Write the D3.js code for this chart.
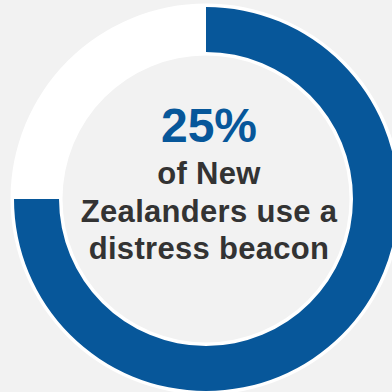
<!DOCTYPE html>
<html>
<head>
<meta charset="utf-8">
<script src="https://cdn.jsdelivr.net/npm/d3@7"></script>
<style>
  html, body { margin: 0; padding: 0; background: #f2f2f2; }
  svg { display: block; }
</style>
</head>
<body>
<script>
// Share of New Zealanders using a distress beacon
const segments = ["Do not use a beacon", "Use a distress beacon"];
const shares = [75, 25];
const headline = "25%";
const captionLines = ["of New", "Zealanders use a", "distress beacon"];

const W = 392, H = 392;
const cx = 206, cy = 199;
const ringOuter = 195.5, ringInner = 143.5;   // white track
const arcOuter = 192, arcInner = 147;          // coloured segment

const svg = d3.select("body").append("svg")
  .attr("width", W).attr("height", H);

svg.append("rect").attr("width", W).attr("height", H).attr("fill", "#f2f2f2");

const g = svg.append("g").attr("transform", `translate(${cx},${cy})`);

const pie = d3.pie().sort(null).value(d => d.v);
const arcs = pie(segments.map((s, i) => ({ s, v: shares[i] })));

// full white track behind the segments
g.append("path")
  .attr("d", d3.arc().innerRadius(ringInner).outerRadius(ringOuter)
    .startAngle(0).endAngle(2 * Math.PI)())
  .attr("fill", "#ffffff");

const colour = d3.scaleOrdinal().domain(segments).range(["#07579a", "#ffffff"]);

g.selectAll("path.seg").data(arcs).join("path")
  .attr("class", "seg")
  .attr("d", d3.arc().innerRadius(arcInner).outerRadius(arcOuter))
  .attr("fill", d => colour(d.data.s));

// centre label
const tx = 209;
svg.append("text")
  .attr("x", tx).attr("y", 142)
  .attr("text-anchor", "middle")
  .attr("font-family", "'Liberation Sans', Arial, sans-serif")
  .attr("font-weight", "bold")
  .attr("font-size", 48)
  .attr("fill", "#07579a")
  .text(headline);

const baselines = [184, 222, 259];
svg.selectAll("text.cap").data(captionLines).join("text")
  .attr("class", "cap")
  .attr("x", tx)
  .attr("y", (d, i) => baselines[i])
  .attr("text-anchor", "middle")
  .attr("font-family", "'Liberation Sans', Arial, sans-serif")
  .attr("font-weight", "bold")
  .attr("font-size", 31)
  .attr("letter-spacing", "0.3px")
  .attr("fill", "#333333")
  .text(d => d);
</script>
</body>
</html>
